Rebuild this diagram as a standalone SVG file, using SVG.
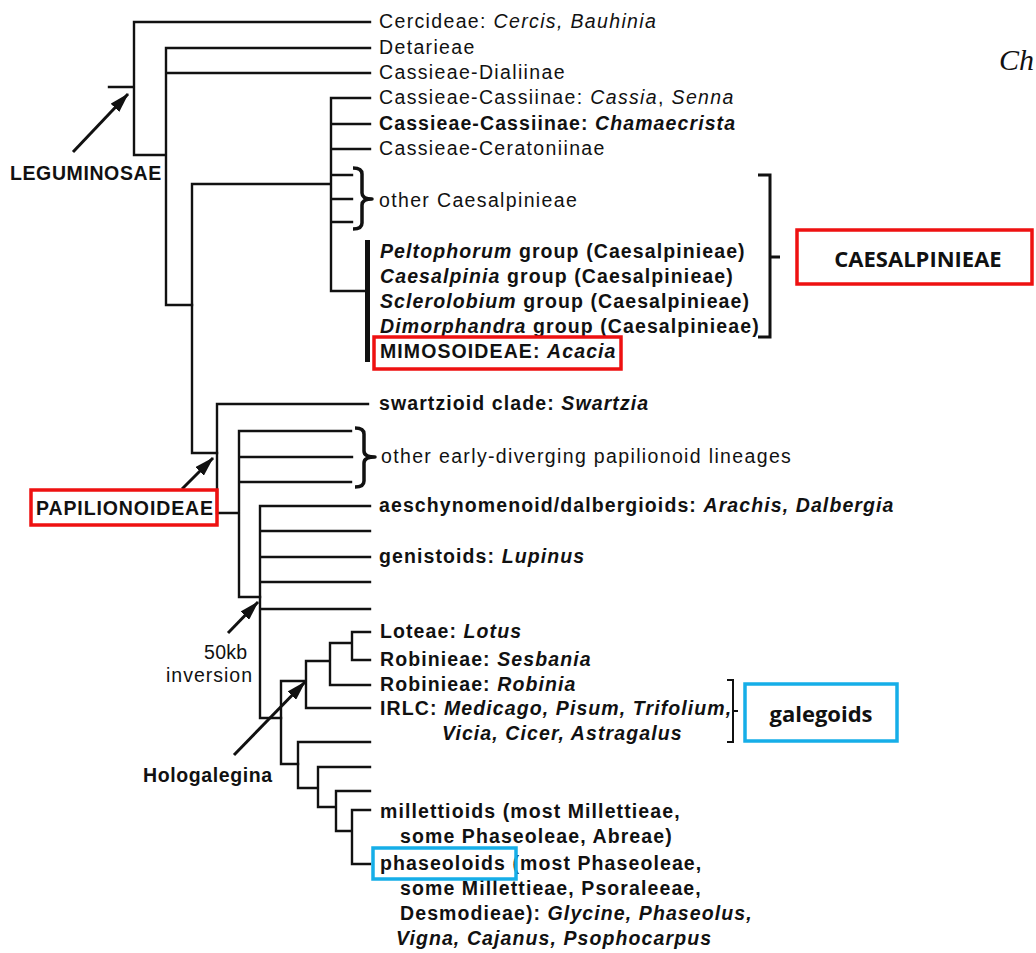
<svg xmlns="http://www.w3.org/2000/svg" width="1036" height="953" viewBox="0 0 1036 953">
<style>
.t{font-family:"Liberation Sans",Arial,sans-serif;font-size:19.5px;fill:#111;letter-spacing:1.35px}
.b{font-weight:bold;letter-spacing:1.1px}
.i{font-style:italic}
.tree{fill:none;stroke:#111;stroke-width:2.4;stroke-linecap:square}
.brace{fill:none;stroke:#111;stroke-width:3.5;stroke-linejoin:round}
.arr{stroke:#111;stroke-width:3;marker-end:url(#ah)}
.red{fill:none;stroke:#ee1111;stroke-width:3.5}
.blue{fill:none;stroke:#16aee8;stroke-width:3.5}
.box{font-family:"Open Sans","Liberation Sans",sans-serif;font-weight:bold;font-size:22px;fill:#111;text-anchor:middle}
</style>
<defs>
<marker id="ah" viewBox="0 0 20 12" refX="19" refY="6" markerWidth="20" markerHeight="12" markerUnits="userSpaceOnUse" orient="auto">
<path d="M0,0 L20,6 L0,12 z" fill="#111"/>
</marker>
</defs>
<rect width="1036" height="953" fill="#fff"/>
<g id="connectors">
<path class="tree" d="M109,87 H134 M134,22 V155 H166 M134,22 H370 M166,48 V305 H192 M166,48 H370 M166,73 H370"/>
<path class="tree" d="M192,184 V453 H217 M192,184 H331 M331,98 V291 M331,98 H370 M331,124 H370 M331,149 H370 M331,175 H352 M331,199 H352 M331,222 H352 M331,291 H366"/>
<path class="tree" d="M217,404 V513 H239 M217,404 H368 M239,431 V597 H260 M239,431 H351 M239,457 H352 M239,482 H351"/>
<path class="tree" d="M260,506 V718 H281 M260,506 H370 M260,531 H370 M260,557 H370 M260,582 H370 M260,609 H370"/>
<path class="tree" d="M281,681 V764 H298 M281,681 H306 M306,661 V708 H370 M306,661 H330 M330,643 V685 H370 M330,643 H352 M352,632 V660 H370 M352,632 H370"/>
<path class="tree" d="M298,742 V788 H318 M298,742 H370 M318,767 V807 H336 M318,767 H370 M336,791 V831 H352 M336,791 H370 M352,810 V864 H370 M352,810 H370"/>
<rect x="365" y="240" width="5" height="122" fill="#111"/>
<path class="brace" d="M353,168 Q362,168 362,174 L362,193 Q362,199 372,199 Q362,199 362,205 L362,223 Q362,229 353,229"/>
<path class="brace" d="M355,428 Q364,428 364,434 L364,451 Q364,457 375,457 Q364,457 364,463 L364,481 Q364,487 355,487"/>
<path fill="none" stroke="#111" stroke-width="3" d="M758,175 H770 V337 H758 M770,257 H780"/>
<path fill="none" stroke="#111" stroke-width="2" d="M727,680 H733 V742 H727 M733,711 H738"/>
<line class="arr" x1="73" y1="152" x2="128" y2="94"/>
<line class="arr" x1="182" y1="489" x2="213" y2="458"/>
<line class="arr" x1="228" y1="633" x2="258" y2="602"/>
<line class="arr" x1="234" y1="755" x2="305" y2="682"/>
</g>
<g id="labels-top">
<text class="t" x="379" y="28">Cercideae: <tspan class="i">Cercis, Bauhinia</tspan></text>
<text class="t" x="379" y="54">Detarieae</text>
<text class="t" x="379" y="79">Cassieae-Dialiinae</text>
<text class="t" x="379" y="104">Cassieae-Cassiinae: <tspan class="i">Cassia</tspan>, <tspan class="i">Senna</tspan></text>
<text class="t b" x="379" y="130">Cassieae-Cassiinae: <tspan class="i">Chamaecrista</tspan></text>
<text class="t" x="379" y="155">Cassieae-Ceratoniinae</text>
<text class="t" x="379" y="207">other Caesalpinieae</text>
<text class="t b" x="380" y="258"><tspan class="i">Peltophorum</tspan> group (Caesalpinieae)</text>
<text class="t b" x="380" y="283"><tspan class="i">Caesalpinia</tspan> group (Caesalpinieae)</text>
<text class="t b" x="380" y="308"><tspan class="i">Sclerolobium</tspan> group (Caesalpinieae)</text>
<text class="t b" x="380" y="333"><tspan class="i">Dimorphandra</tspan> group (Caesalpinieae)</text>
</g>
<g id="mimosoideae">
<rect class="red" x="374" y="337" width="247" height="32"/>
<text class="t b" x="380" y="358">MIMOSOIDEAE: <tspan class="i">Acacia</tspan></text>
</g>
<g id="caesalpinieae">
<rect class="red" x="797" y="230" width="235" height="54"/>
<text class="box" x="918" y="267">CAESALPINIEAE</text>
</g>
<g id="leguminosae">
<text class="t b" x="10" y="180" style="letter-spacing:0.6px">LEGUMINOSAE</text>
</g>
<g id="papilionoideae">
<rect class="red" x="31" y="490" width="186" height="35" fill="#fff"/>
<text class="t b" x="36" y="515" style="letter-spacing:0.9px">PAPILIONOIDEAE</text>
</g>
<g id="labels-pap">
<text class="t b" x="379" y="410">swartzioid clade: <tspan class="i">Swartzia</tspan></text>
<text class="t" x="381" y="463">other early-diverging papilionoid lineages</text>
<text class="t b" x="379" y="512">aeschynomenoid/dalbergioids: <tspan class="i">Arachis, Dalbergia</tspan></text>
<text class="t b" x="379" y="563">genistoids: <tspan class="i">Lupinus</tspan></text>
<text class="t" x="204" y="659" style="letter-spacing:0.3px">50kb</text>
<text class="t" x="166" y="682" style="letter-spacing:1px">inversion</text>
<text class="t b" x="143" y="782" style="letter-spacing:0.6px">Hologalegina</text>
<text class="t b" x="380" y="638">Loteae: <tspan class="i">Lotus</tspan></text>
<text class="t b" x="380" y="666">Robinieae: <tspan class="i">Sesbania</tspan></text>
<text class="t b" x="380" y="691">Robinieae: <tspan class="i">Robinia</tspan></text>
<text class="t b" x="380" y="715">IRLC: <tspan class="i">Medicago, Pisum, Trifolium,</tspan></text>
<text class="t b i" x="442" y="740">Vicia, Cicer, Astragalus</text>
<text class="t b" x="380" y="818">millettioids (most Millettieae,</text>
<text class="t b" x="400" y="843">some Phaseoleae, Abreae)</text>
<text class="t b" x="380" y="870">phaseoloids (most Phaseoleae,</text>
<text class="t b" x="400" y="895">some Millettieae,  Psoraleeae,</text>
<text class="t b" x="400" y="920">Desmodieae): <tspan class="i">Glycine, Phaseolus,</tspan></text>
<text class="t b i" x="396" y="945">Vigna, Cajanus, Psophocarpus</text>
</g>
<g id="phaseoloids-box">
<rect class="blue" x="373" y="848" width="143" height="31"/>
</g>
<g id="galegoids">
<rect class="blue" x="745" y="684" width="152" height="57"/>
<text class="box" x="821" y="722">galegoids</text>
</g>
<g id="corner">
<text x="999" y="70" style="font-family:'Liberation Serif','Times New Roman',serif;font-style:italic;font-size:30px;fill:#111">Ch</text>
</g>
</svg>
